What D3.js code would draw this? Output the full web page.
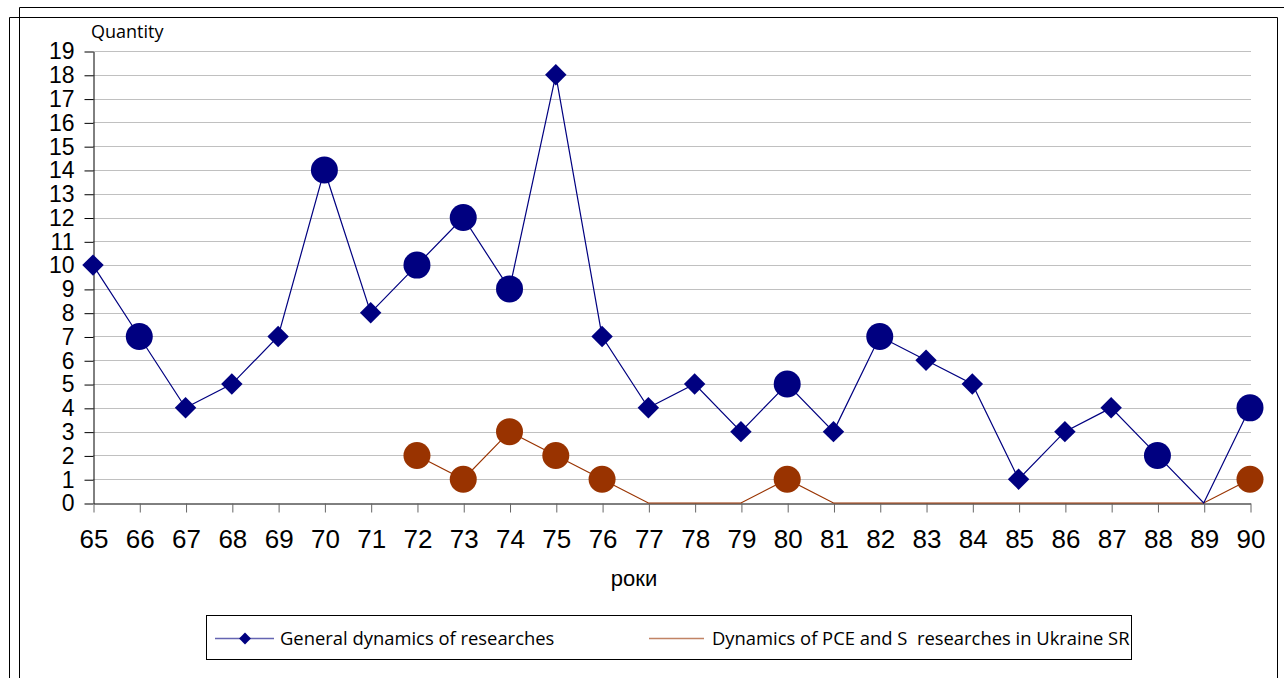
<!DOCTYPE html>
<html><head><meta charset="utf-8">
<script src="https://cdn.jsdelivr.net/npm/d3@7"></script>
<style>body{margin:0;background:#fff}svg{display:block}</style>
</head><body><svg id="c" width="1284" height="678"></svg>
<script>
const years = ["65","66","67","68","69","70","71","72","73","74","75","76","77","78","79","80","81","82","83","84","85","86","87","88","89","90"];
const general = [10,7,4,5,7,14,8,10,12,9,18,7,4,5,3,5,3,7,6,5,1,3,4,2,0,4];
const ukraine = [null,null,null,null,null,null,null,2,1,3,2,1,0,0,0,1,0,0,0,0,0,0,0,0,0,1];
const generalCircled = ["66","70","72","73","74","80","82","88","90"];
const yTicks = d3.range(0,20);
const seriesNames = ["General dynamics of researches","Dynamics of PCE and S  researches in Ukraine SR"];
const axisTitleY = "Quantity", axisTitleX = "роки";

const svg = d3.select("#c");
const blue = "#000080", brown = "#993300";
// frames
svg.append("path").attr("d","M19.5,678 V7.5 H1284").attr("fill","none").attr("stroke","#000");
svg.append("path").attr("d","M9.5,678 V17.5 H1277.5 V678").attr("fill","none").attr("stroke","#000");

const x = d3.scalePoint().domain(years).range([93,1250]);
const y = d3.scaleLinear().domain([0,19]).range([503,51]);

// gridlines
svg.append("g").selectAll("line").data(yTicks.filter(d=>d>0)).join("line")
  .attr("x1",93).attr("x2",1251).attr("y1",d=>Math.round(y(d))+0.5).attr("y2",d=>Math.round(y(d))+0.5)
  .attr("stroke","#c0c0c0");

// y axis
const ya = svg.append("g").attr("transform","translate(93.5,0.5)")
  .call(d3.axisLeft(y).tickValues(yTicks).tickSize(9).tickPadding(10).tickSizeOuter(0));
ya.select(".domain").attr("stroke","#000");
ya.selectAll(".tick line").attr("stroke","#000");
ya.selectAll("text").attr("font-family","'Liberation Sans',Arial,sans-serif").attr("font-size",23).attr("fill","#000");

// x axis
const xa = svg.append("g").attr("transform","translate(0.5,503.5)")
  .call(d3.axisBottom(x).tickSize(9).tickPadding(17).tickSizeOuter(0));
xa.select(".domain").attr("stroke","#000");
xa.selectAll(".tick line").attr("stroke","#666");
xa.selectAll("text").attr("font-family","'Liberation Sans',Arial,sans-serif").attr("font-size",26).attr("fill","#000");

svg.append("text").attr("x",x("65")-2).attr("y",38).text(axisTitleY)
  .attr("font-family","'Open Sans',Lato,sans-serif").attr("font-size",18);
svg.append("text").attr("x",634).attr("y",586).attr("text-anchor","middle").text(axisTitleX)
  .attr("font-family","'Liberation Sans',Arial,sans-serif").attr("font-size",22);

// brown series
const ukData = years.map((k,i)=>({k,v:ukraine[i]}));
svg.append("path").datum(ukData).attr("fill","none").attr("stroke",brown).attr("stroke-width",1.2)
  .attr("d",d3.line().defined(d=>d.v!==null).x(d=>x(d.k)).y(d=>y(d.v)));
svg.append("g").selectAll("circle").data(ukData.filter(d=>d.v)).join("circle")
  .attr("cx",d=>x(d.k)).attr("cy",d=>y(d.v)).attr("r",13.5).attr("fill",brown);

// blue series
const gData = years.map((k,i)=>({k,v:general[i]}));
svg.append("path").datum(gData).attr("fill","none").attr("stroke",blue).attr("stroke-width",1.2)
  .attr("d",d3.line().x(d=>x(d.k)).y(d=>y(d.v)));
svg.append("g").selectAll("path").data(gData.filter(d=>d.v>0 && !generalCircled.includes(d.k))).join("path")
  .attr("d",d3.symbol(d3.symbolSquare,230)).attr("transform",d=>`translate(${x(d.k)},${y(d.v)}) rotate(45)`)
  .attr("fill",blue);
svg.append("g").selectAll("circle").data(gData.filter(d=>generalCircled.includes(d.k))).join("circle")
  .attr("cx",d=>x(d.k)).attr("cy",d=>y(d.v)).attr("r",13.5).attr("fill",blue);

// legend
const lg = svg.append("g");
lg.append("rect").attr("x",206.5).attr("y",615.5).attr("width",925).attr("height",44).attr("fill","#fff").attr("stroke","#000");
lg.append("line").attr("x1",215).attr("x2",274).attr("y1",638.5).attr("y2",638.5).attr("stroke",blue).attr("stroke-width",1.6).attr("opacity",0.6);
lg.append("path").attr("d",d3.symbol(d3.symbolSquare,70)).attr("transform","translate(245,638.5) rotate(45)").attr("fill",blue);
lg.append("line").attr("x1",649).attr("x2",704).attr("y1",638.5).attr("y2",638.5).attr("stroke",brown).attr("stroke-width",1.6).attr("opacity",0.6);
lg.selectAll("text.l").data(seriesNames).join("text").attr("class","l")
  .attr("x",(d,i)=>i?712:280).attr("y",644.5).text(d=>d).style("white-space","pre")
  .attr("font-family","'Open Sans',Lato,sans-serif").attr("font-size",18.4);
</script></body></html>
